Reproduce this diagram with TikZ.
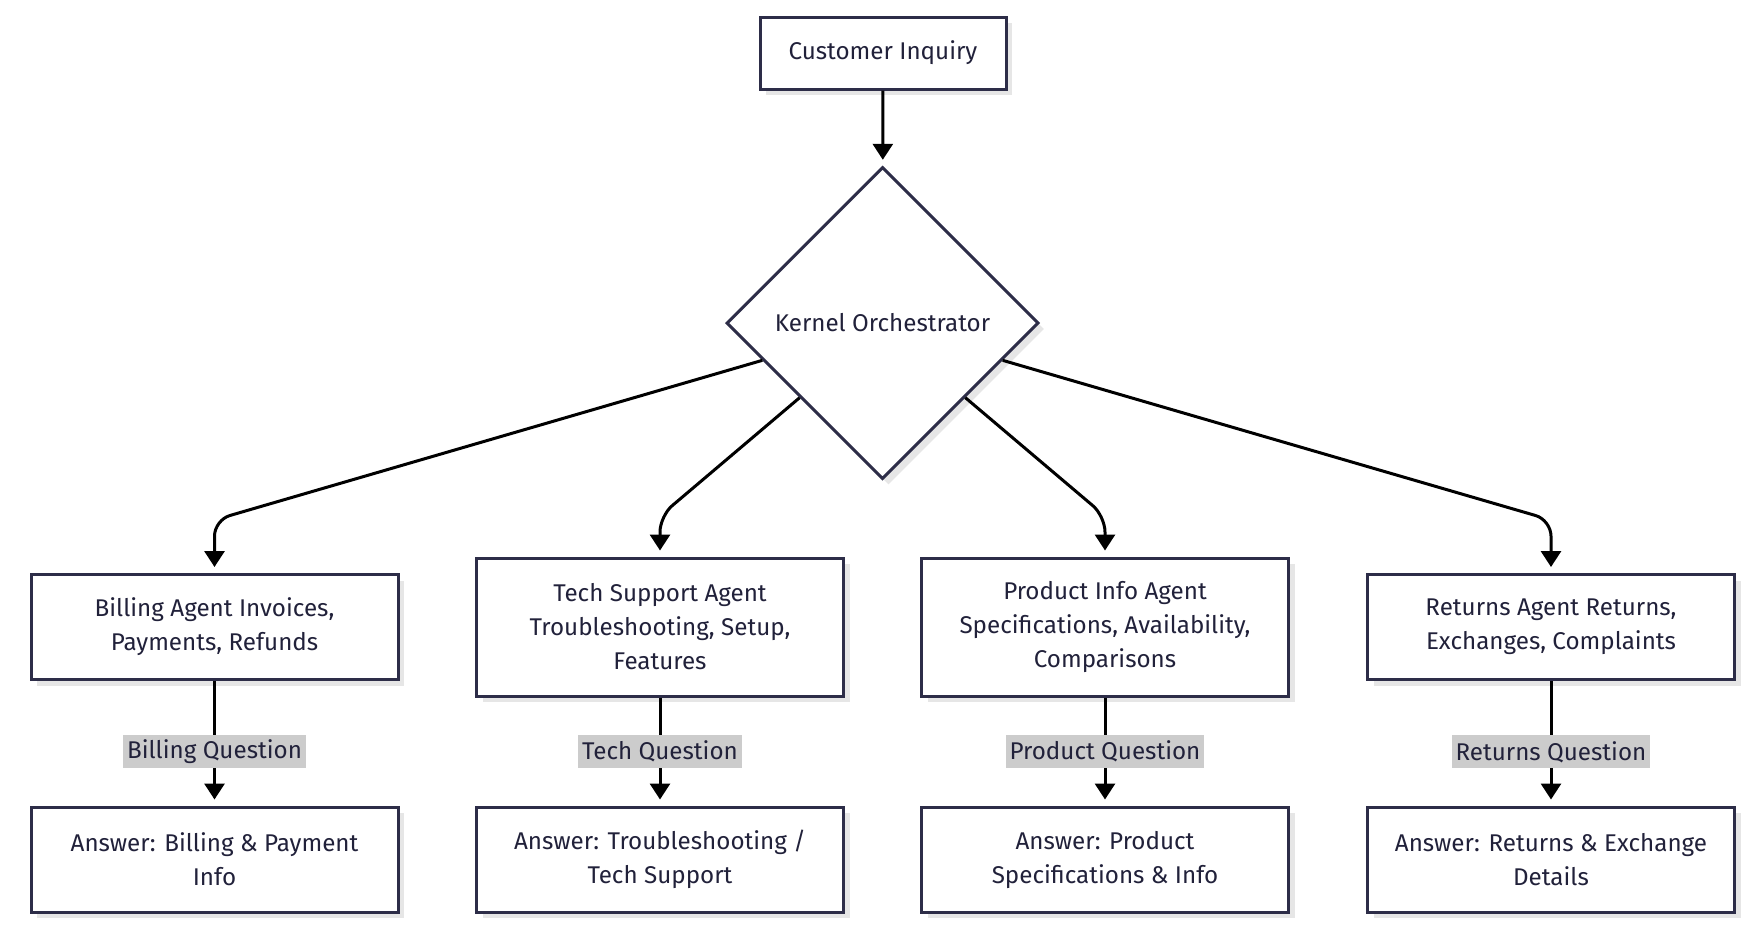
\documentclass[tikz,border=0pt]{standalone}
\usepackage{fontspec}
\setmainfont{Fira Sans}
\usetikzlibrary{shapes.geometric,arrows.meta,shadows,calc}
\definecolor{edgec}{RGB}{45,45,72}
\definecolor{txt}{RGB}{33,33,58}
\definecolor{lbl}{RGB}{204,204,204}
\definecolor{shd}{RGB}{230,230,230}
\begin{document}
\begin{tikzpicture}[x=0.5pt,y=-0.5pt,
  font=\fontsize{12.1}{17}\selectfont, text=txt,
  shad/.style={general shadow={fill=shd, shadow xshift=3pt, shadow yshift=-3pt}},
  box/.style={draw=edgec, line width=1.5pt, fill=white, shad, align=center, minimum width=183.5pt, inner sep=0pt},
  dia/.style={diamond, draw=edgec, line width=1.5pt, fill=white, shad, minimum size=156pt, inner sep=0pt},
  arr/.style={draw=black, line width=1.5pt, -{Triangle[length=8pt,width=10pt]}, shorten >=3pt},
  lab/.style={fill=lbl, inner xsep=2pt, inner ysep=0pt, minimum height=16.5pt, text=txt}]
\useasboundingbox (0,0) rectangle (1758,938);

\node[box, minimum width=123pt, minimum height=36pt] (ci) at (883,53) {Customer Inquiry};
\node[dia] (k) at (882.5,323) {Kernel Orchestrator};

\node[box, minimum height=52.5pt] (b1) at (214.5,627) {Billing Agent Invoices,\\Payments, Refunds};
\node[box, minimum height=69pt] (b2) at (660,627) {Tech Support Agent\\Troubleshooting, Setup,\\Features};
\node[box, minimum height=69pt] (b3) at (1105,627) {Product Info Agent\\Specifications, Availability,\\Comparisons};
\node[box, minimum height=52.5pt] (b4) at (1551,627) {Returns Agent Returns,\\Exchanges, Complaints};

\node[box, minimum height=52.5pt] (a1) at (214.5,859.5) {Answer: Billing \& Payment\\Info};
\node[box, minimum height=52.5pt] (a2) at (660,859.5) {Answer: Troubleshooting /\\Tech Support};
\node[box, minimum height=52.5pt] (a3) at (1105,859.5) {Answer: Product\\Specifications \& Info};
\node[box, minimum height=52.5pt] (a4) at (1551,859.5) {Answer: Returns \& Exchange\\Details};

\draw[arr] (ci) -- (k);

\coordinate (k1) at ($(k.west)!0.237!(k.south)$);
\coordinate (k2) at ($(k.west)!0.474!(k.south)$);
\coordinate (k3) at ($(k.east)!0.474!(k.south)$);
\coordinate (k4) at ($(k.east)!0.237!(k.south)$);
\coordinate (c1) at (214.5,520);
\coordinate (c2) at (660,516);
\coordinate (c3) at (1105,516);
\coordinate (c4) at (1551,520);

\draw[arr, rounded corners=8pt] (k1) -- (c1) -- (b1.north);
\draw[arr, rounded corners=8pt] (k2) -- (c2) -- (b2.north);
\draw[arr, rounded corners=8pt] (k3) -- (c3) -- (b3.north);
\draw[arr, rounded corners=8pt] (k4) -- (c4) -- (b4.north);

\draw[arr] (b1) -- node[lab, pos=0.57] {Billing Question} (a1);
\draw[arr] (b2) -- node[lab, pos=0.5] {Tech Question} (a2);
\draw[arr] (b3) -- node[lab, pos=0.5] {Product Question} (a3);
\draw[arr] (b4) -- node[lab, pos=0.57] {Returns Question} (a4);
\end{tikzpicture}
\end{document}
